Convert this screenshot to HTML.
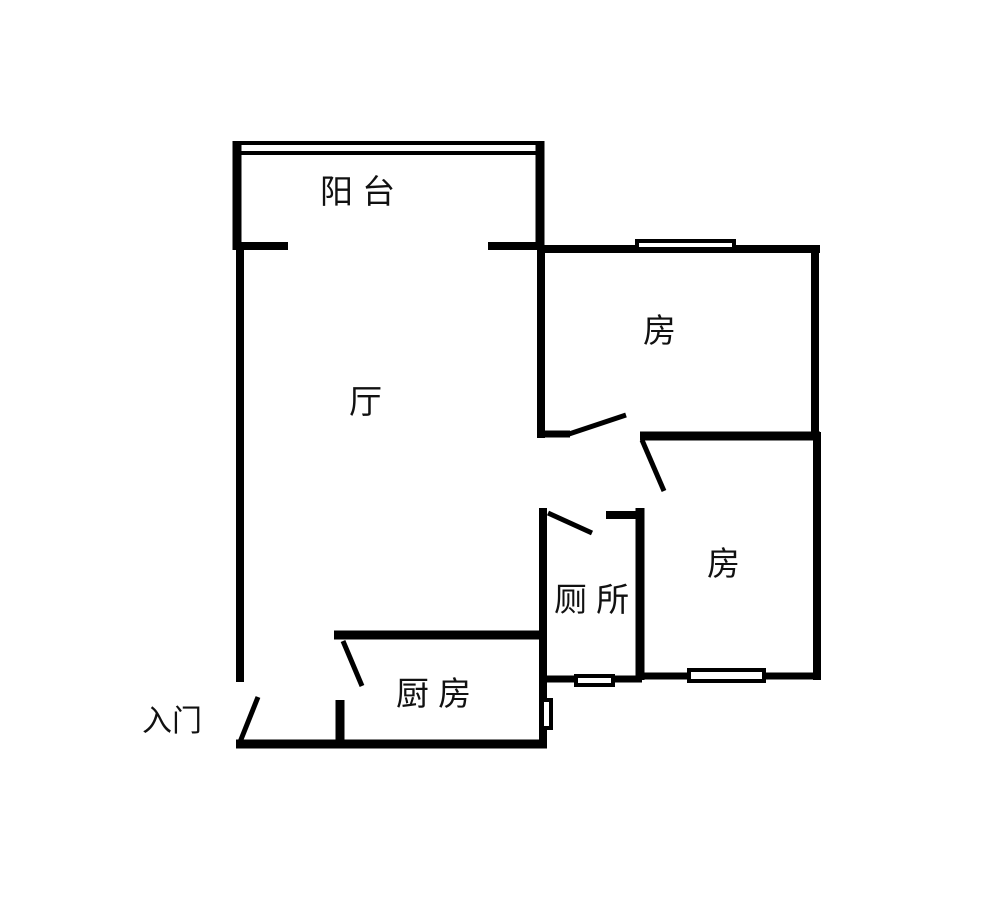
<!DOCTYPE html>
<html><head><meta charset="utf-8"><style>body{margin:0;background:#fff}svg{display:block}text{font-family:"Liberation Sans","Noto Sans CJK SC",sans-serif;font-size:33px;fill:#111}</style></head><body>
<svg width="1000" height="908" viewBox="0 0 1000 908">
<g stroke="#000" stroke-linecap="butt" fill="none">
<!-- balcony -->
<line x1="233" y1="143" x2="544" y2="143" stroke-width="4"/>
<line x1="233" y1="153" x2="544" y2="153" stroke-width="4"/>
<line x1="237" y1="141" x2="237" y2="250" stroke-width="9"/>
<line x1="540" y1="141" x2="540" y2="250" stroke-width="9"/>
<line x1="233" y1="246" x2="288" y2="246" stroke-width="8"/>
<line x1="488" y1="246" x2="544" y2="246" stroke-width="8"/>
<!-- living -->
<line x1="240" y1="246" x2="240" y2="682" stroke-width="8"/>
<line x1="258" y1="697" x2="240" y2="742" stroke-width="5"/>
<line x1="236" y1="744" x2="547" y2="744" stroke-width="9"/>
<!-- kitchen -->
<line x1="334" y1="635" x2="546" y2="635" stroke-width="9"/>
<line x1="340" y1="700" x2="340" y2="744" stroke-width="9"/>
<line x1="343" y1="641" x2="362" y2="686" stroke-width="5"/>
<line x1="543" y1="508" x2="543" y2="746" stroke-width="8"/>
<!-- room1 -->
<line x1="540" y1="249" x2="820" y2="249" stroke-width="8"/>
<line x1="815" y1="245" x2="815" y2="440" stroke-width="8"/>
<line x1="541" y1="250" x2="541" y2="438" stroke-width="8"/>
<line x1="537" y1="434" x2="570" y2="434" stroke-width="7"/>
<line x1="569" y1="434" x2="626" y2="415" stroke-width="5"/>
<line x1="640" y1="436" x2="820" y2="436" stroke-width="9"/>
<line x1="642" y1="440" x2="664" y2="491" stroke-width="5"/>
<!-- room2 -->
<line x1="817" y1="432" x2="817" y2="680" stroke-width="8"/>
<line x1="640" y1="676" x2="821" y2="676" stroke-width="7"/>
<line x1="640" y1="508" x2="640" y2="680" stroke-width="9"/>
<line x1="606" y1="515" x2="644" y2="515" stroke-width="8"/>
<!-- toilet -->
<line x1="548" y1="513" x2="592" y2="533" stroke-width="5"/>
<line x1="543" y1="679" x2="642" y2="679" stroke-width="7"/>
</g>
<g fill="#fff" stroke="#000" stroke-width="4">
<rect x="637" y="241" width="97" height="8"/>
<rect x="689" y="670" width="75" height="11"/>
<rect x="576" y="676" width="37" height="9"/>
<rect x="542" y="700" width="9" height="28"/>
</g>
<text x="320" y="203">阳 台</text>
<text x="349" y="413">厅</text>
<text x="643" y="342">房</text>
<text x="707" y="575">房</text>
<text x="554" y="611">厕 所</text>
<text x="396" y="705">厨 房</text>
<text x="142" y="731" style="font-size:30px">入门</text>
</svg>
</body></html>
